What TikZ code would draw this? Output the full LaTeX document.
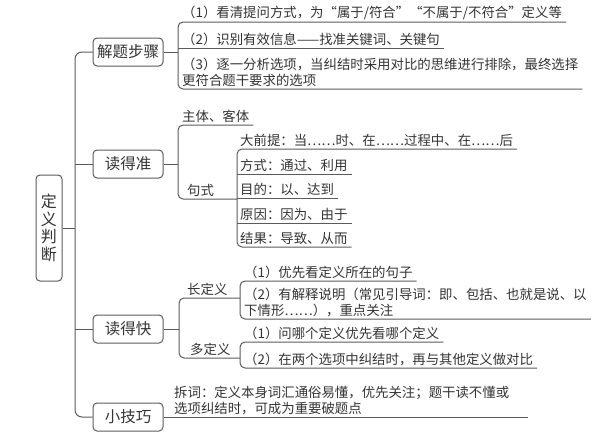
\documentclass[tikz,border=0pt]{standalone}
\usepackage{fontspec}
\newfontfamily\cjk{Noto Sans CJK SC}
\usetikzlibrary{positioning}
\definecolor{linegray}{HTML}{5A5A5A}
\definecolor{textgray}{HTML}{333333}

\begin{document}
\begin{tikzpicture}[x=1pt,y=-1pt,
	topic/.style={draw=linegray, line width=1pt, rounded corners=4pt, minimum width=70pt, minimum height=28pt, text=textgray, font=\fontsize{15.5}{18}\cjk},
	leaf/.style={anchor=south west, inner xsep=4pt, inner ysep=1.8pt, align=left, text=textgray, font=\fontsize{13.4}{16}\cjk},
	link/.style={draw=linegray, line width=1pt, rounded corners=5pt}]
	\useasboundingbox (0,0) rectangle (614,437);

	% Root and spine
	\node [draw=linegray, line width=1pt, rounded corners=4pt, minimum width=26pt, minimum height=106pt, align=center, text=textgray, font=\fontsize{16}{17.5}\cjk] (root) at (49,228) {定\\义\\判\\断};
	\coordinate (sp) at (75,0);

	\node [topic] (jtbz) at (128,52) {解题步骤};
	\node [topic] (ddz) at (128,164) {读得准};
	\node [topic] (ddk) at (128,329) {读得快};
	\node [topic] (xjq) at (128,417) {小技巧};

	\draw [link, rounded corners=7pt] (jtbz.west) -- (jtbz.west -| sp) -- (xjq.west -| sp) -- (xjq.west);
	\draw [link] (ddz.west -| sp) -- (ddz.west);
	\draw [link] (ddk.west -| sp) -- (ddk.west);
	\draw [link] (root.east) -- (root.east -| sp);

	% Solving steps
	\coordinate (b1) at (178,0);
	\node [leaf] (s1) at (178,22) {（1）看清提问方式，为“属于/符合”“不属于/不符合”定义等};
	\node [leaf] (s2) at (178,48) {（2）识别有效信息——找准关键词、关键句};
	\node [leaf] (s3) at (178,89) {（3）逐一分析选项，当纠结时采用对比的思维进行排除，最终选择\\更符合题干要求的选项};
	\draw [link] (s1.south east) -- (s1.south -| b1) -- (s3.south -| b1) -- (s3.south east);
	\draw [link] (s2.south -| b1) -- (s2.south east);
	\draw [link] (jtbz.east) -- (jtbz.east -| b1);

	% Read precisely
	\coordinate (b2) at (178,0);
	\coordinate (b3) at (237,0);
	\node [leaf] (z1) at (178,125) {主体、客体};
	\node [leaf] (z2) at (183,199) {句式};
	\draw [link] (z1.south east) -- (z1.south -| b2) -- (z2.south -| b2) -- (z2.south -| b3);
	\draw [link] (ddz.east) -- (ddz.east -| b2);

	\node [leaf] (p1) at (236,149) {大前提：当……时、在……过程中、在……后};
	\node [leaf] (p2) at (236,174) {方式：通过、利用};
	\node [leaf] (p3) at (236,198) {目的：以、达到};
	\node [leaf] (p4) at (236,223) {原因：因为、由于};
	\node [leaf] (p5) at (236,247) {结果：导致、从而};
	\draw [link] (p1.south east) -- (p1.south -| b3) -- (p5.south -| b3) -- (p5.south east);
	\foreach \n in {p2,p3,p4}
		\draw [link] (\n.south -| b3) -- (\n.south east);

	% Read quickly
	\coordinate (b4) at (179,0);
	\coordinate (b5) at (240,0);
	\node [leaf] (k1) at (183,298) {长定义};
	\node [leaf] (k2) at (186,358) {多定义};
	\draw [link] (k1.south -| b5) -- (k1.south -| b4) -- (k2.south -| b4) -- (k2.south -| b5);
	\draw [link] (ddk.east) -- (ddk.east -| b4);

	\node [leaf] (l1) at (240,281) {（1）优先看定义所在的句子};
	\node [leaf] (l2) at (240,319) {（2）有解释说明（常见引导词：即、包括、也就是说、以\\下情形……），重点关注};
	\draw [link] (l1.south east) -- (l1.south -| b5) -- (l2.south -| b5) -- (l2.south east);

	\node [leaf] (m1) at (240,342) {（1）问哪个定义优先看哪个定义};
	\node [leaf] (m2) at (240,368) {（2）在两个选项中纠结时，再与其他定义做对比};
	\draw [link] (m1.south east) -- (m1.south -| b5) -- (m2.south -| b5) -- (m2.south east);

	% Small tricks
	\node [leaf, text width=350pt] (t1) at (170,417) {拆词：定义本身词汇通俗易懂，优先关注；题干读不懂或\\选项纠结时，可成为重要破题点};
	\draw [link] (xjq.east) -- (t1.south east);
\end{tikzpicture}
\end{document}
